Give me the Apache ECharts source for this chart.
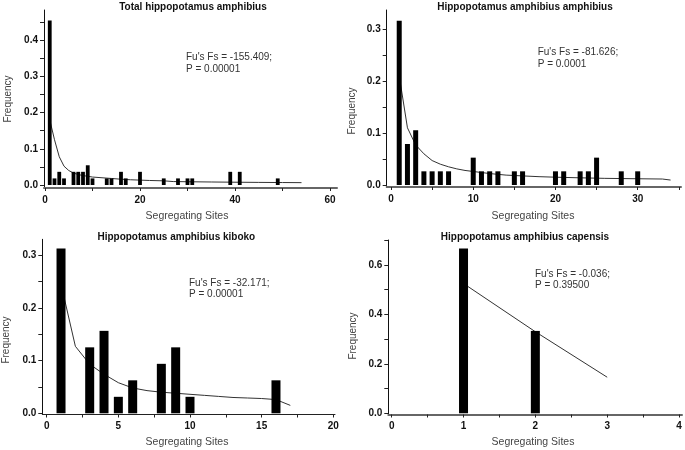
<!DOCTYPE html>
<html>
<head>
<meta charset="utf-8">
<script src="https://cdn.jsdelivr.net/npm/echarts@6/dist/echarts.min.js"></script>
<style>
html,body{margin:0;padding:0;background:#fff;}
#c{width:685px;height:450px;}
</style>
</head>
<body>
<div id="c"></div>
<script>
// ---------- DATA ----------
const titles = ['Total hippopotamus amphibius','Hippopotamus amphibius amphibius','Hippopotamus amphibius kiboko','Hippopotamus amphibius capensis'];
const fsText = ["Fu's Fs = -155.409;","Fu's Fs = -81.626;","Fu's Fs = -32.171;","Fu's Fs = -0.036;"];
const pText = ['P = 0.00001','P = 0.0001','P = 0.00001','P = 0.39500'];
const xName = 'Segregating Sites';
const yName = 'Frequency';

// Panel 1: Total
const p1BarX = [1,2,3,4,6,7,8,9,10,13,14,16,17,20,25,28,30,31,39,41,49];
const p1BarY = [0.4545,0.0182,0.0364,0.0182,0.0364,0.0364,0.0364,0.0545,0.0182,0.0182,0.0182,0.0364,0.0182,0.0364,0.0182,0.0182,0.0182,0.0182,0.0364,0.0364,0.0182];
const p1CurveX = [1,2,3,4,5,6,7,8,9,10,12,14,16,18,20,22,25,27,30,35,40,45,50,54];
const p1CurveY = [0.18,0.125,0.078,0.052,0.04,0.033,0.029,0.026,0.024,0.022,0.020,0.018,0.016,0.0145,0.0135,0.0125,0.0115,0.0095,0.009,0.0083,0.0077,0.0072,0.0068,0.0065];
const p1XTicks = [0,10,20,30,40,50,60];
const p1XLabels = [0,20,40,60];
const p1YTicks = [0,0.05,0.1,0.15,0.2,0.25,0.3,0.35,0.4,0.45];
const p1YLabels = [0,0.1,0.2,0.3,0.4];

// Panel 2: amphibius
const p2BarX = [1,2,3,4,5,6,7,10,11,12,13,15,16,20,21,23,24,25,28,30];
const p2BarY = [0.3158,0.0789,0.1053,0.0263,0.0263,0.0263,0.0263,0.0526,0.0263,0.0263,0.0263,0.0263,0.0263,0.0263,0.0263,0.0263,0.0263,0.0526,0.0263,0.0263];
const p2CurveX = [1,2,3,4,5,6,7,8,9,10,12,14,16,18,20,23,26,30,33,34];
const p2CurveY = [0.21,0.11,0.077,0.06,0.047,0.04,0.035,0.031,0.028,0.026,0.022,0.019,0.0175,0.016,0.015,0.0138,0.0128,0.012,0.0115,0.0095];
const p2XTicks = [0,5,10,15,20,25,30,35];
const p2XLabels = [0,10,20,30];
const p2YTicks = [0,0.05,0.1,0.15,0.2,0.25,0.3];
const p2YLabels = [0,0.1,0.2,0.3];

// Panel 3: kiboko
const p3BarX = [1,3,4,5,6,8,9,10,16];
const p3BarY = [0.3125,0.125,0.15625,0.03125,0.0625,0.09375,0.125,0.03125,0.0625];
const p3CurveX = [1,2,3,4,5,6,7,8,9,10,11,12,13,14,15,16,17];
const p3CurveY = [0.245,0.127,0.093,0.074,0.058,0.048,0.043,0.040,0.038,0.036,0.034,0.032,0.030,0.029,0.028,0.026,0.015];
const p3XTicks = [0,2.5,5,7.5,10,12.5,15,17.5,20];
const p3XLabels = [0,5,10,15,20];
const p3YTicks = [0,0.05,0.1,0.15,0.2,0.25,0.3];
const p3YLabels = [0,0.1,0.2,0.3];

// Panel 4: capensis
const p4BarX = [1,2];
const p4BarY = [0.6667,0.3333];
const p4CurveX = [1,2,3];
const p4CurveY = [0.525,0.33,0.146];
const p4XTicks = [0,0.5,1,1.5,2,2.5,3,3.5,4];
const p4XLabels = [0,1,2,3,4];
const p4YTicks = [0,0.1,0.2,0.3,0.4,0.5,0.6,0.7];
const p4YLabels = [0,0.2,0.4,0.6];

// ---------- LAYOUT (pixel geometry) ----------
const layout = [
  {axL:44, axR:337, x0:45, xRefPx:330, xRef:60, axT:10, axB:188, y0:185, yRefPx:40.2, yRef:0.4, barW:3.8, xLineColor:'#666', xLineW:2,
   title:[193,7], ann:[186,57], xn:[187,216], yn:[8,99]},
  {axL:386.7, axR:681, x0:391, xRefPx:637.7, xRef:30, axT:10, axB:187, y0:185, yRefPx:29, yRef:0.3, barW:5, xLineColor:'#666', xLineW:2,
   title:[525,7], ann:[537.7,52], xn:[533,216], yn:[352,111]},
  {axL:42.3, axR:335, x0:46.7, xRefPx:333.3, xRef:20, axT:239.3, axB:414.5, y0:413.3, yRefPx:255, yRef:0.3, barW:9, xLineColor:'#222', xLineW:1,
   title:[176.3,237], ann:[189,282.5], xn:[187,442], yn:[6,340]},
  {axL:388.3, axR:682, x0:391.7, xRefPx:679, xRef:4, axT:240, axB:414.5, y0:413.3, yRefPx:265, yRef:0.6, barW:9, xLineColor:'#666', xLineW:2,
   title:[525,237.5], ann:[535,273.5], xn:[533,442], yn:[353,336]}
];

const panels = [
  {bx:p1BarX, by:p1BarY, cx:p1CurveX, cy:p1CurveY, xt:p1XTicks, xl:p1XLabels, yt:p1YTicks, yl:p1YLabels},
  {bx:p2BarX, by:p2BarY, cx:p2CurveX, cy:p2CurveY, xt:p2XTicks, xl:p2XLabels, yt:p2YTicks, yl:p2YLabels},
  {bx:p3BarX, by:p3BarY, cx:p3CurveX, cy:p3CurveY, xt:p3XTicks, xl:p3XLabels, yt:p3YTicks, yl:p3YLabels},
  {bx:p4BarX, by:p4BarY, cx:p4CurveX, cy:p4CurveY, xt:p4XTicks, xl:p4XLabels, yt:p4YTicks, yl:p4YLabels}
];

const FONT = '"Liberation Sans", Arial, Helvetica, sans-serif';
const grid = [], xAxis = [], yAxis = [], series = [], graphic = [];

layout.forEach((L, i) => {
  const P = panels[i];
  const kx = (L.xRefPx - L.x0) / L.xRef;
  const ky = (L.y0 - L.yRefPx) / L.yRef;
  const xmin = (L.axL - L.x0) / kx, xmax = (L.axR - L.x0) / kx;
  const ymax = (L.y0 - L.axT) / ky, ymin = (L.y0 - L.axB) / ky;
  grid.push({left:L.axL, top:L.axT, width:L.axR - L.axL, height:L.axB - L.axT, containLabel:false});
  xAxis.push({
    type:'value', gridIndex:i, min:xmin, max:xmax,
    axisLine:{show:true, onZero:false, lineStyle:{color:L.xLineColor, width:L.xLineW}},
    axisTick:{show:true, customValues:P.xt, length:3, lineStyle:{color:'#222'}},
    axisLabel:{customValues:P.xl, formatter:v => String(Math.round(v)), color:'#111', fontWeight:'bold', fontSize:10, fontFamily:FONT, margin:7},
    splitLine:{show:false}
  });
  yAxis.push({
    type:'value', gridIndex:i, min:ymin, max:ymax,
    axisLine:{show:true, onZero:false, lineStyle:{color:'#111', width:1}},
    axisTick:{show:true, customValues:P.yt, length:4, lineStyle:{color:'#222'}},
    axisLabel:{customValues:P.yl, formatter:v => v.toFixed(1), color:'#111', fontWeight:'bold', fontSize:10, fontFamily:FONT, margin:6},
    splitLine:{show:false}
  });
  series.push({
    type:'line', xAxisIndex:i, yAxisIndex:i, symbol:'none',
    lineStyle:{color:'#333', width:1},
    data:P.cx.map((x, j) => [x, P.cy[j]]),
    z:2, silent:true, animation:false
  });
  series.push({
    type:'bar', xAxisIndex:i, yAxisIndex:i, barWidth:L.barW,
    itemStyle:{color:'#000'},
    data:P.bx.map((x, j) => [x, P.by[j]]),
    z:3, silent:true, animation:false
  });
  graphic.push({type:'text', x:L.title[0], y:L.title[1], style:{text:titles[i], font:'bold 10px ' + FONT, fill:'#111', align:'center', verticalAlign:'middle'}});
  graphic.push({type:'text', x:L.ann[0], y:L.ann[1] - 5.5, style:{text:fsText[i] + '\n' + pText[i], font:'10px ' + FONT, fill:'#333', align:'left', verticalAlign:'top', lineHeight:11.5}});
  graphic.push({type:'text', x:L.xn[0], y:L.xn[1], style:{text:xName, font:'10.5px ' + FONT, fill:'#444', align:'center', verticalAlign:'middle'}});
  graphic.push({type:'text', x:L.yn[0], y:L.yn[1], rotation:Math.PI/2, style:{text:yName, font:'10px ' + FONT, fill:'#444', align:'center', verticalAlign:'middle'}});
});

const chart = echarts.init(document.getElementById('c'), null, {renderer:'canvas'});
chart.setOption({animation:false, backgroundColor:'#fff', grid, xAxis, yAxis, series, graphic});
</script>
</body>
</html>
